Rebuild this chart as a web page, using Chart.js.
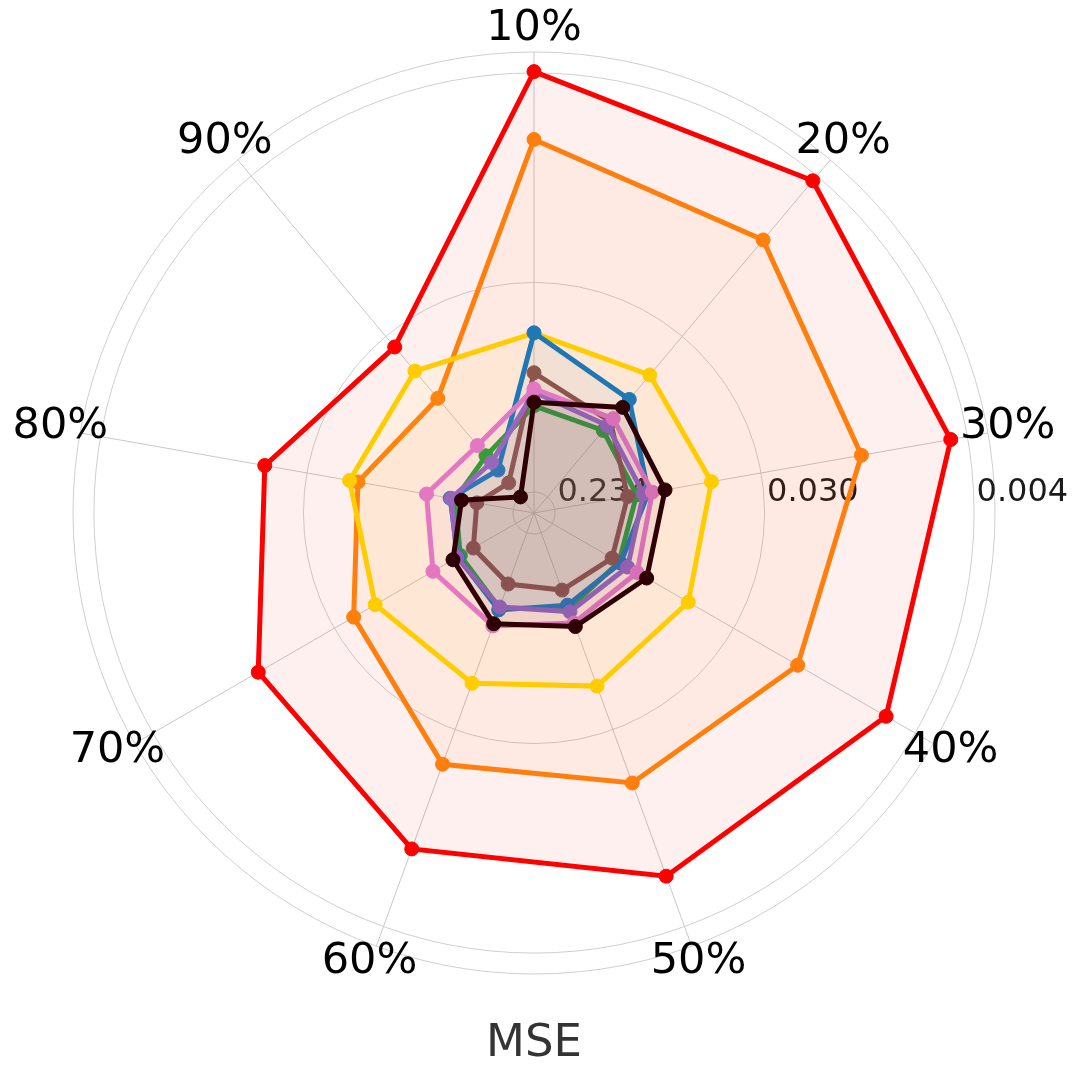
<!DOCTYPE html>
<html>
<head>
<meta charset="utf-8">
<script src="https://cdn.jsdelivr.net/npm/chart.js@4.4.1/dist/chart.umd.min.js"></script>
<style>
  html, body { margin: 0; padding: 0; background: #ffffff; }
  #wrap { width: 1080px; height: 1079px; }
</style>
</head>
<body>
<div id="wrap"><canvas id="c" width="1080" height="1079"></canvas></div>
<script>
// ---- data ----
const categories = ['10%', '20%', '30%', '40%', '50%', '60%', '70%', '80%', '90%'];

// radial tick marks (MSE) and their printed labels
const tickValues = [0.234, 0.0302, 0.0039];
const tickLabels = ['0.234', '0.030', '0.004'];
// MSE at the centre and at the outer ring of the radial axis
const axisInnerMSE = 0.2873;
const axisOuterMSE = 0.003179;

// MSE per missing-rate, one array per method
const redMSE    = [0.00385, 0.00415, 0.00460, 0.00541, 0.00658, 0.00874, 0.01280, 0.01988, 0.03457];
const orangeMSE = [0.00747, 0.00883, 0.01116, 0.01467, 0.01734, 0.02107, 0.03756, 0.05009, 0.06656];
const goldMSE   = [0.0496, 0.0494, 0.0494, 0.0504, 0.0475, 0.0489, 0.0479, 0.0461, 0.0470];
const blueMSE   = [0.0494, 0.0675, 0.0924, 0.1081, 0.1102, 0.1049, 0.1215, 0.1251, 0.1662];
const brownMSE  = [0.0730, 0.0897, 0.1134, 0.1191, 0.1289, 0.1373, 0.1449, 0.1629, 0.1956];
const pinkMSE   = [0.0854, 0.0862, 0.0888, 0.0897, 0.0915, 0.0888, 0.0919, 0.0989, 0.1215];
const purpleMSE = [0.0880, 0.0942, 0.0970, 0.0999, 0.1029, 0.1081, 0.1203, 0.1263, 0.1507];
const greenMSE  = [0.1009, 0.1003, 0.1038, 0.1102, 0.1059, 0.1070, 0.1251, 0.1314, 0.1385];
const blackMSE  = [0.0973, 0.0747, 0.0783, 0.0806, 0.0882, 0.0909, 0.1152, 0.1400, 0.2340];

// ---- chart ----
const toR = v => -Math.log(v); // lower MSE plotted further out

function hexA(hex, a) {
  const n = parseInt(hex.slice(1), 16);
  return `rgba(${(n >> 16) & 255},${(n >> 8) & 255},${n & 255},${a})`;
}
function ds(name, values, color) {
  return {
    label: name,
    data: values.map(toR),
    borderColor: color,
    backgroundColor: hexA(color, 0.06),
    pointBackgroundColor: color,
    pointBorderColor: color,
    pointBorderWidth: 1,
    pointRadius: 7,
    borderWidth: 5,
    fill: true,
    tension: 0
  };
}

// first dataset is drawn on top
const datasets = [
  ds('black', blackMSE, '#2e0003'),
  ds('pink', pinkMSE, '#e377c2'),
  ds('purple', purpleMSE, '#9467bd'),
  ds('brown', brownMSE, '#8c564b'),
  ds('blue', blueMSE, '#1f77b4'),
  ds('green', greenMSE, '#2ca02c'),
  ds('gold', goldMSE, '#ffcc00'),
  ds('orange', orangeMSE, '#ff7f0e'),
  ds('red', redMSE, '#ff0000')
];

const FONT = '"DejaVu Sans", "Liberation Sans", sans-serif';

const labelsPlugin = {
  id: 'radarText',
  beforeDatasetsDraw(chart) {
    const s = chart.scales.r;
    const ctx = chart.ctx;
    ctx.save();
    ctx.font = '32px ' + FONT;
    ctx.fillStyle = '#1a1a1a';
    ctx.textAlign = 'left';
    ctx.textBaseline = 'middle';
    tickValues.forEach((v, i) => {
      const d = s.getDistanceFromCenterForValue(toR(v));
      ctx.fillText(tickLabels[i], s.xCenter + d + 2.5, s.yCenter - 20);
    });
    ctx.restore();
  },
  afterDatasetsDraw(chart) {
    const s = chart.scales.r;
    const ctx = chart.ctx;
    ctx.save();
    ctx.font = '43px ' + FONT;
    ctx.fillStyle = '#000000';
    ctx.textAlign = 'center';
    ctx.textBaseline = 'middle';
    categories.forEach((lab, i) => {
      const p = s.getPointPosition(i, s.drawingArea + 20);
      ctx.fillText(lab, p.x, p.y - 3);
    });
    ctx.restore();
  }
};

new Chart(document.getElementById('c'), {
  type: 'radar',
  data: { labels: categories, datasets },
  options: {
    responsive: false,
    animation: false,
    devicePixelRatio: 1,
    layout: { padding: { left: 73, right: 85, top: 52, bottom: 7.5 } },
    plugins: {
      legend: { display: false },
      tooltip: { enabled: false },
      title: {
        display: true,
        text: 'MSE',
        position: 'bottom',
        color: '#333333',
        font: { family: FONT, size: 45, weight: 'normal', lineHeight: 1.2 },
        padding: { top: 43.5, bottom: 0 }
      }
    },
    scales: {
      r: {
        min: toR(axisInnerMSE),
        max: toR(axisOuterMSE),
        afterBuildTicks(scale) {
          scale.ticks = [scale.min, ...tickValues.map(toR), scale.max].map(v => ({ value: v }));
        },
        ticks: { display: false },
        pointLabels: { display: false },
        grid: { circular: true, color: '#cfcfcf', lineWidth: 1 },
        angleLines: { display: true, color: '#c8c8c8', lineWidth: 1 }
      }
    }
  },
  plugins: [labelsPlugin]
});
</script>
</body>
</html>
